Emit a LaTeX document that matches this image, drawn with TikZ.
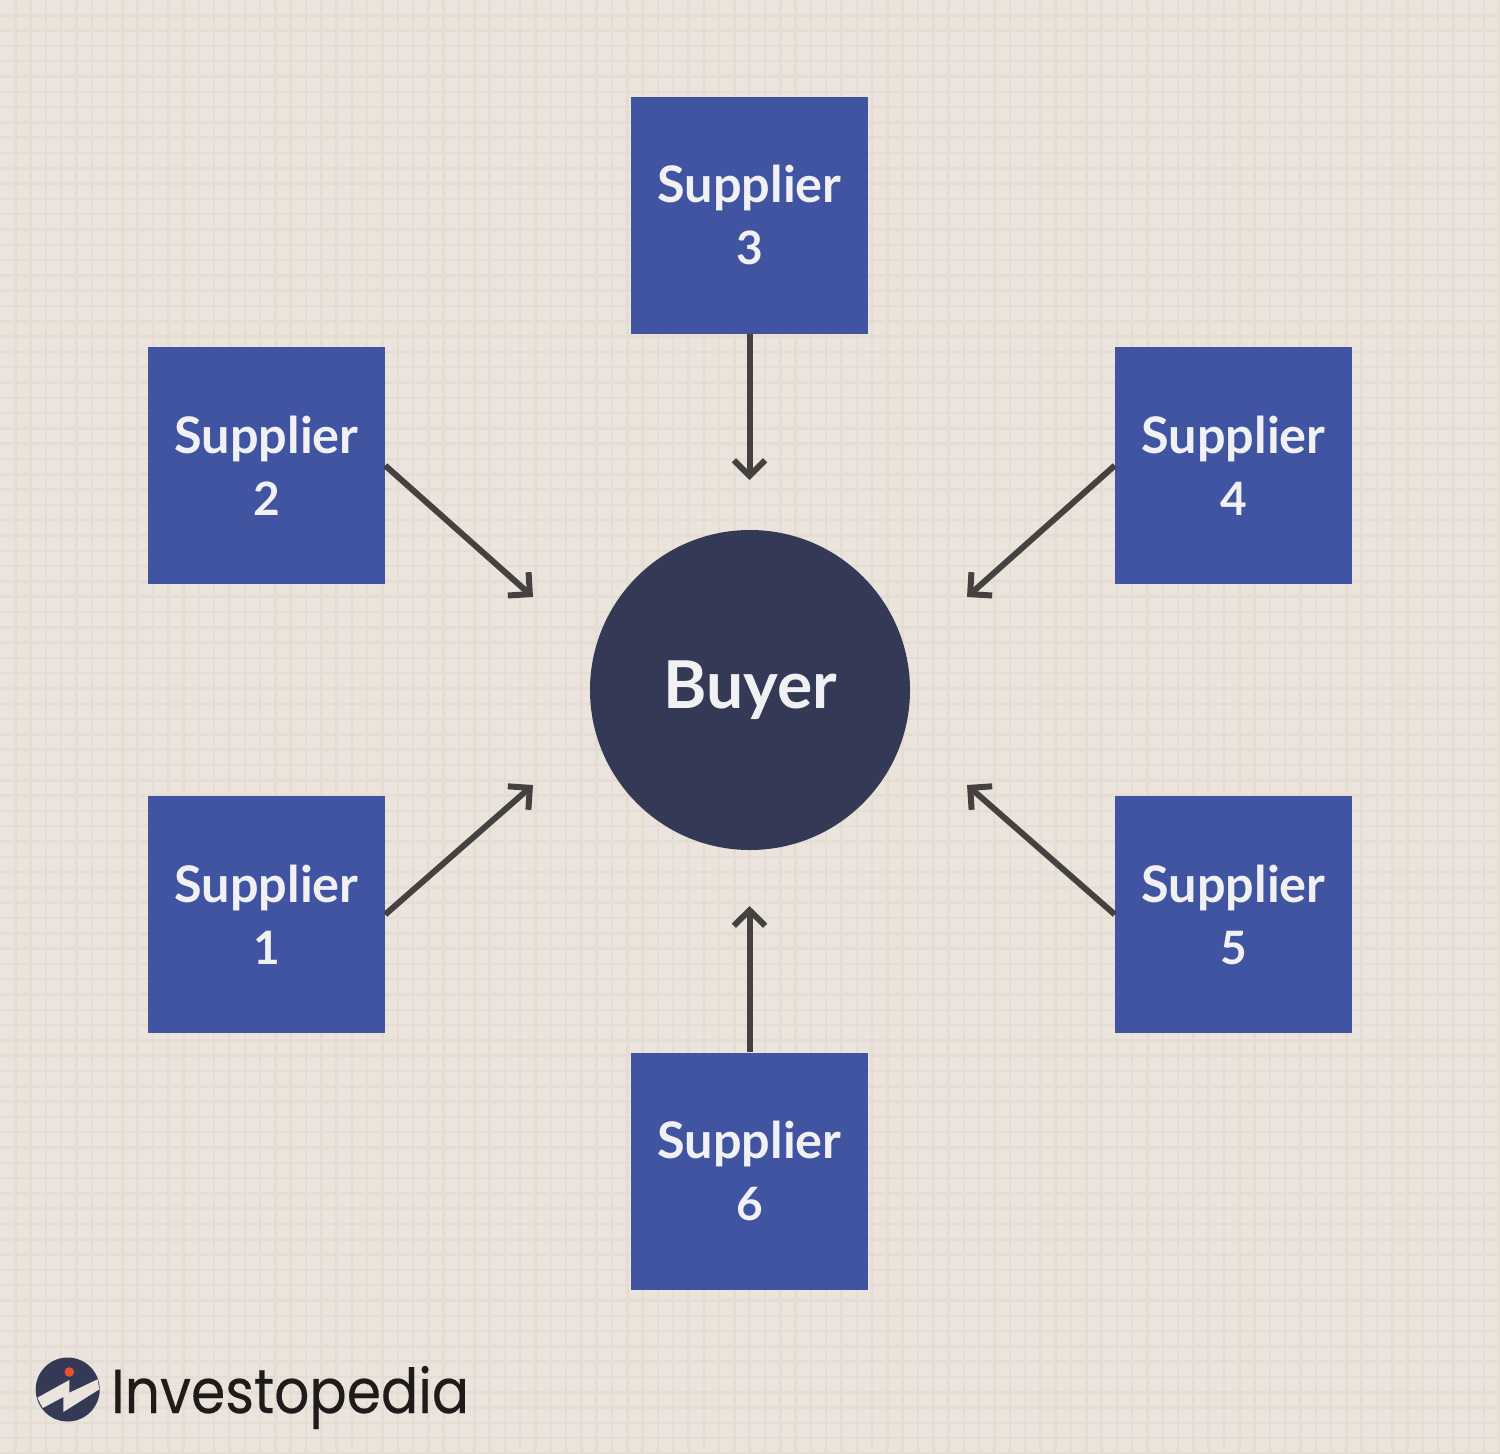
\documentclass[tikz,border=0pt]{standalone}
\usepackage{fontspec}
\setmainfont{Lato}
\newfontfamily\logofont[FakeStretch=0.89,FakeBold=0.25]{Poppins}
\usetikzlibrary{arrows.meta}
\definecolor{paper}{HTML}{EAE4DC}
\definecolor{gridline}{HTML}{E5DDD4}
\definecolor{boxblue}{HTML}{4054A1}
\definecolor{navy}{HTML}{343A55}
\definecolor{arrowgrey}{HTML}{444140}
\definecolor{textlight}{HTML}{F1F1F4}
\definecolor{logoink}{HTML}{1E1B1A}
\definecolor{logodot}{HTML}{E8522A}
\newcommand{\supdigit}[1]{{\fontsize{46}{62}\selectfont #1}}
\pgfdeclarearrow{
  name=OpenBarb,
  setup code={
    \pgfarrowssettipend{0pt}
    \pgfarrowssetlineend{-5pt}
    \pgfarrowssetbackend{-20pt}
    \pgfarrowssetvisualbackend{-5pt}
    \pgfarrowsupperhullpoint{-20pt}{18pt}
    \pgfarrowshullpoint{0pt}{0pt}
  },
  drawing code={
    \pgfsetdash{}{0pt}
    \pgfsetmiterjoin
    \pgfsetbuttcap
    \pgfpathmoveto{\pgfpoint{-19.8pt}{15.6pt}}
    \pgfpathlineto{\pgfpoint{-4.24pt}{0pt}}
    \pgfpathlineto{\pgfpoint{-19.8pt}{-15.6pt}}
    \pgfusepathqstroke
  }
}
\tikzset{
  supplier/.style={draw=none,fill=boxblue,minimum size=237pt,inner sep=0pt,align=center,text=textlight,
    font=\fontsize{50.4}{62}\selectfont\bfseries},
  buyer/.style={circle,fill=navy,minimum size=320pt,inner sep=0pt,text=textlight,font=\fontsize{66}{70}\selectfont\bfseries},
  flow/.style={draw=arrowgrey,line width=6pt,-{OpenBarb}},
}
\begin{document}
\begin{tikzpicture}[x=1pt,y=-1pt]
\useasboundingbox (0,0) rectangle (1500,1454);
\fill[paper] (0,0) rectangle (1500,1454);
\foreach \i in {1,...,98}{
  \pgfmathsetmacro{\pos}{\i*15.3}
  \draw[gridline,line width=2.5pt] (\pos,0) -- (\pos,1454);
  \draw[gridline,line width=2.5pt] (0,\pos) -- (1500,\pos);
}
\node[buyer] (buyer) at (750,690) {Buyer};
\node[supplier] (s1) at (266.5,914.5) {Supplier\\\supdigit{1}};
\node[supplier] (s2) at (266.5,465.5) {Supplier\\\supdigit{2}};
\node[supplier] (s3) at (749.5,215) {Supplier\\\supdigit{3}};
\node[supplier] (s4) at (1233.5,465.5) {Supplier\\\supdigit{4}};
\node[supplier] (s5) at (1233.5,914.5) {Supplier\\\supdigit{5}};
\node[supplier] (s6) at (749.5,1171) {Supplier\\\supdigit{6}};
\coordinate (t1) at (533,785);
\coordinate (t2) at (533,597);
\coordinate (t3) at (749.5,480);
\coordinate (t4) at (967,597);
\coordinate (t5) at (967,785);
\coordinate (t6) at (749.5,906);
\draw[flow] (s1.east) -- (t1);
\draw[flow] (s2.east) -- (t2);
\draw[flow] (s3.south) -- (t3);
\draw[flow] (s4.west) -- (t4);
\draw[flow] (s5.west) -- (t5);
\draw[flow] (s6.north) -- (t6);
% logo
\fill[navy] (67.7,1389.5) circle (32);
\fill[paper] (37.3,1397.7) -- (69.3,1380) -- (69.3,1392.7) -- (97.7,1379.3) -- (99.3,1389.3) -- (63.3,1412) -- (63.3,1397) -- (42.7,1408) -- cycle;
\fill[logodot] (69.3,1372) circle (4.8);
\node[anchor=base west,inner sep=0pt,text=logoink,font=\logofont\fontsize{62}{62}\selectfont] (logo) at (111,1413) {Investopedia};
\end{tikzpicture}
\end{document}
